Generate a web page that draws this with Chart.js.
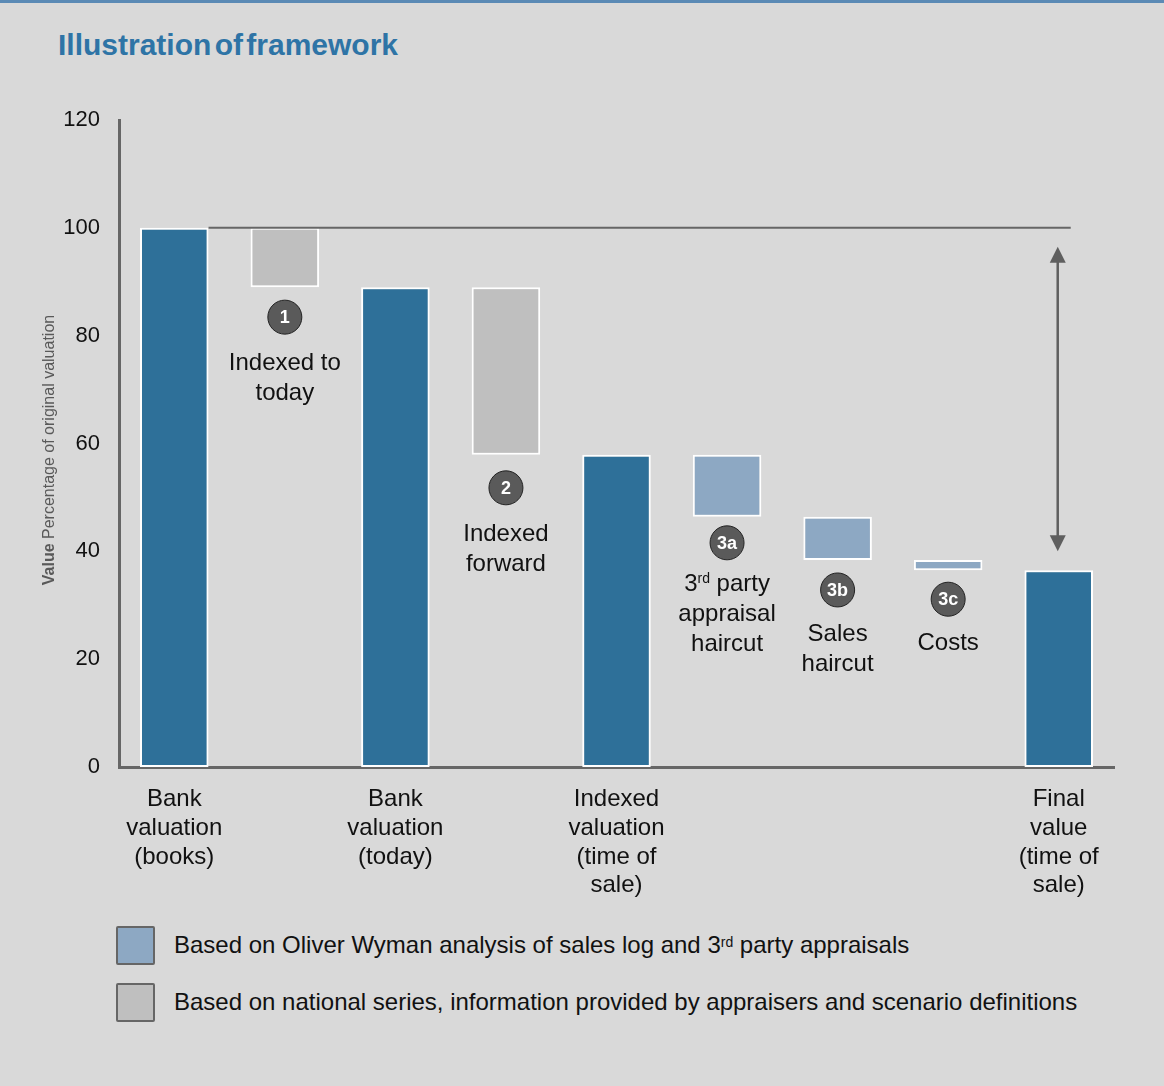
<!DOCTYPE html>
<html>
<head>
<meta charset="utf-8">
<title>Illustration of framework</title>
<script src="https://cdn.jsdelivr.net/npm/chart.js@4.4.0/dist/chart.umd.min.js"></script>
<style>
  body { margin: 0; background: #d9d9d9; font-family: "Liberation Sans", Arial, sans-serif; }
  #page { position: relative; width: 1164px; height: 1086px; overflow: hidden; }
  #topline { position: absolute; left: 0; top: 0; width: 1164px; height: 3px; background: #5b8ab5; }
  h1 { position: absolute; left: 58px; top: 28px; margin: 0; font-size: 30px; font-weight: bold; color: #2e74a6; word-spacing: -5px; }
  #wrap { position: absolute; left: 0; top: 0; width: 1164px; height: 910px; }
  .leg { position: absolute; left: 116px; height: 40px; display: flex; align-items: center; font-size: 24px; color: #111; }
  .leg .sw { width: 35px; height: 35px; border: 2.5px solid #666; border-radius: 2px; margin-right: 19px; }
  .leg sup { font-size: 14px; position: relative; top: -3px; }
</style>
</head>
<body>
<div id="page">
  <div id="topline"></div>
  <h1>Illustration of framework</h1>
  <div id="wrap"><canvas id="waterfall" width="1164" height="910"></canvas></div>
  <div class="leg" style="top:925px"><div class="sw" style="background:#8da8c3"></div>Based on Oliver Wyman analysis of sales log and 3<sup>rd</sup>&nbsp;party appraisals</div>
  <div class="leg" style="top:982px"><div class="sw" style="background:#bfbfbf"></div>Based on national series, information provided by appraisers and scenario definitions</div>
</div>
<script>
// waterfall: each bar runs from barBase to barTop (percent of original valuation)
var categories = [
  ['Bank', 'valuation', '(books)'],
  '',
  ['Bank', 'valuation', '(today)'],
  '',
  ['Indexed', 'valuation', '(time of', 'sale)'],
  '', '', '',
  ['Final', 'value', '(time of', 'sale)']
];
var barBase = [0, 89, 0, 57.9, 0, 46.4, 38.4, 36.5, 0];
var barTop  = [100, 100, 89, 89, 57.9, 57.9, 46.4, 38.4, 36.5];
var barKind = ['total', 'national', 'total', 'national', 'total', 'ow', 'ow', 'ow', 'total'];
var yTicks  = [0, 20, 40, 60, 80, 100, 120];

// numbered steps under the floating bars
var stepIndex = [1, 3, 5, 6, 7];
var stepBadge = ['1', '2', '3a', '3b', '3c'];
var stepNotes = [
  ['Indexed to', 'today'],
  ['Indexed', 'forward'],
  ['3rd party', 'appraisal', 'haircut'],
  ['Sales', 'haircut'],
  ['Costs']
];
// pixel spacing: bar bottom -> badge centre, badge centre -> first note line
var badgeGap = [30, 33, 26, 30, 29];
var noteGap  = [46, 47, 42, 44, 44];

var kindColour = { total: '#2e7099', national: '#bfbfbf', ow: '#8da8c3' };
var FONT = '"Liberation Sans", Arial, sans-serif';

function drawNoteLine(ctx, line, x, y) {
  ctx.textBaseline = 'middle';
  ctx.textAlign = 'left';
  var m = /^(\d)(rd|st|nd|th)(.*)$/.exec(line);
  ctx.font = '24px ' + FONT;
  if (!m) {
    var w = ctx.measureText(line).width;
    ctx.fillText(line, x - w / 2, y);
    return;
  }
  var w1 = ctx.measureText(m[1]).width;
  var w3 = ctx.measureText(m[3]).width;
  ctx.font = '14px ' + FONT;
  var w2 = ctx.measureText(m[2]).width;
  var left = x - (w1 + w2 + w3) / 2;
  ctx.font = '24px ' + FONT;
  ctx.fillText(m[1], left, y);
  ctx.font = '14px ' + FONT;
  ctx.fillText(m[2], left + w1, y - 6);
  ctx.font = '24px ' + FONT;
  ctx.fillText(m[3], left + w1 + w2, y);
}

var annotations = {
  id: 'annotations',
  afterDatasetsDraw: function(chart) {
    var ctx = chart.ctx;
    var ys = chart.scales.y;
    var bars = chart.getDatasetMeta(0).data;
    ctx.save();

    // reference line at the original valuation
    var y100 = ys.getPixelForValue(barTop[0]);
    var last = bars[bars.length - 1];
    ctx.strokeStyle = '#666';
    ctx.lineWidth = 2;
    ctx.beginPath();
    ctx.moveTo(bars[0].x + bars[0].width / 2, y100);
    ctx.lineTo(last.x + 12, y100);
    ctx.stroke();

    // double arrow: total loss down to final value
    var ax = last.x - 1;
    var aTop = y100 + 19;
    var aBot = ys.getPixelForValue(barTop[barTop.length - 1]) - 19;
    ctx.strokeStyle = '#5f5f5f';
    ctx.fillStyle = '#5f5f5f';
    ctx.lineWidth = 2.5;
    ctx.beginPath();
    ctx.moveTo(ax, aTop + 12);
    ctx.lineTo(ax, aBot - 12);
    ctx.stroke();
    ctx.beginPath();
    ctx.moveTo(ax, aTop); ctx.lineTo(ax - 8, aTop + 16); ctx.lineTo(ax + 8, aTop + 16); ctx.closePath();
    ctx.fill();
    ctx.beginPath();
    ctx.moveTo(ax, aBot); ctx.lineTo(ax - 8, aBot - 16); ctx.lineTo(ax + 8, aBot - 16); ctx.closePath();
    ctx.fill();

    // step badges and notes
    stepIndex.forEach(function(idx, k) {
      var bx = bars[idx].x;
      var bottom = ys.getPixelForValue(barBase[idx]);
      var cy = bottom + badgeGap[k];
      ctx.beginPath();
      ctx.arc(bx, cy, 17, 0, Math.PI * 2);
      ctx.fillStyle = '#5a5a5a';
      ctx.fill();
      ctx.lineWidth = 1;
      ctx.strokeStyle = '#222';
      ctx.stroke();
      ctx.fillStyle = '#fff';
      ctx.font = 'bold 18px ' + FONT;
      ctx.textAlign = 'center';
      ctx.textBaseline = 'middle';
      ctx.fillText(stepBadge[k], bx, cy + 1);

      ctx.fillStyle = '#111';
      stepNotes[k].forEach(function(line, j) {
        drawNoteLine(ctx, line, bx, cy + noteGap[k] + j * 30);
      });
    });

    // axis title with bold lead word
    ctx.translate(50, 450);
    ctx.rotate(-Math.PI / 2);
    ctx.fillStyle = '#595959';
    ctx.textBaseline = 'middle';
    ctx.textAlign = 'left';
    ctx.font = 'bold 16px ' + FONT;
    var lead = 'Value ';
    var wl = ctx.measureText(lead).width;
    ctx.font = '16px ' + FONT;
    var rest = 'Percentage of original valuation';
    var wr = ctx.measureText(rest).width;
    var sx = -(wl + wr) / 2;
    ctx.font = 'bold 16px ' + FONT;
    ctx.fillText(lead, sx, 0);
    ctx.font = '16px ' + FONT;
    ctx.fillText(rest, sx + wl, 0);
    ctx.restore();
  }
};

new Chart(document.getElementById('waterfall').getContext('2d'), {
  type: 'bar',
  data: {
    labels: categories,
    datasets: [{
      data: barBase.map(function(b, i) { return [b, barTop[i]]; }),
      backgroundColor: barKind.map(function(k) { return kindColour[k]; }),
      borderColor: '#ffffff',
      borderWidth: 2,
      borderSkipped: false,
      barPercentage: 0.62,
      categoryPercentage: 1
    }]
  },
  options: {
    responsive: false,
    animation: false,
    layout: { padding: { left: 0, top: 120, right: 50, bottom: 0 } },
    plugins: { legend: { display: false }, tooltip: { enabled: false } },
    scales: {
      x: {
        grid: { display: false },
        border: { display: true, color: '#666', width: 3 },
        ticks: {
          color: '#111', font: { family: FONT, size: 24 }, lineHeight: 1.21,
          padding: 10, maxRotation: 0, autoSkip: false
        },
        afterFit: function(s) { s.height = 143; }
      },
      y: {
        min: 0, max: 120,
        afterBuildTicks: function(s) { s.ticks = yTicks.map(function(v) { return { value: v }; }); },
        grid: { display: false },
        border: { display: true, color: '#666', width: 3 },
        ticks: { color: '#111', font: { family: FONT, size: 22 }, padding: 11 },
        afterFit: function(s) { s.width = 119; }
      }
    }
  },
  plugins: [annotations]
});
</script>
</body>
</html>
